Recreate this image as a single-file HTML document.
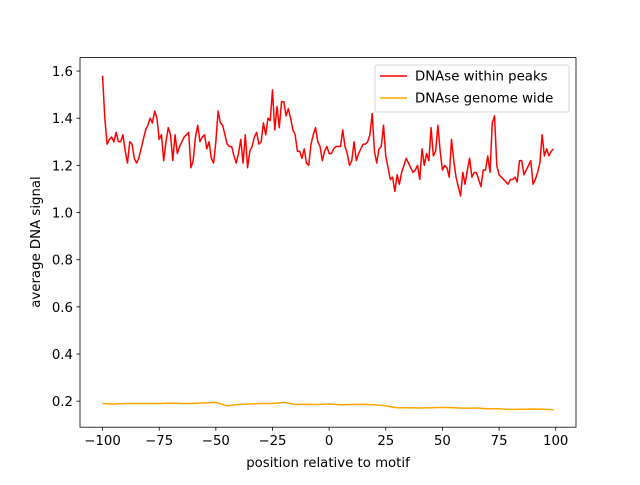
<!DOCTYPE html>
<html><head><meta charset="utf-8"><style>
body{margin:0;background:#fff}
svg text{font-family:"DejaVu Sans","Liberation Sans",sans-serif;font-size:13.3px;fill:#000}
</style></head><body>
<svg id="chart" width="640" height="480" xmlns="http://www.w3.org/2000/svg">
<rect width="640" height="480" fill="#fff"/>
<g id="plot"></g>
</svg>
<script>
const xTicks=[-100,-75,-50,-25,0,25,50,75,100];
const yTicks=[0.2,0.4,0.6,0.8,1.0,1.2,1.4,1.6];
const yTickLabels=["0.2","0.4","0.6","0.8","1.0","1.2","1.4","1.6"];
const peaksValues=[1.58,1.40,1.29,1.31,1.32,1.30,1.34,1.30,1.30,1.33,1.26,1.21,1.30,1.29,1.23,1.21,1.23,1.27,1.31,1.35,1.37,1.40,1.38,1.43,1.40,1.31,1.33,1.22,1.30,1.36,1.33,1.22,1.33,1.25,1.28,1.30,1.32,1.33,1.34,1.19,1.22,1.32,1.37,1.30,1.32,1.33,1.27,1.30,1.23,1.21,1.30,1.43,1.38,1.37,1.33,1.29,1.28,1.28,1.24,1.21,1.25,1.31,1.21,1.33,1.19,1.26,1.28,1.32,1.34,1.29,1.30,1.38,1.33,1.40,1.39,1.52,1.35,1.45,1.36,1.47,1.47,1.41,1.44,1.40,1.35,1.33,1.26,1.26,1.23,1.27,1.21,1.20,1.29,1.33,1.36,1.30,1.28,1.22,1.26,1.28,1.25,1.25,1.27,1.28,1.28,1.28,1.35,1.28,1.25,1.20,1.22,1.30,1.22,1.25,1.27,1.29,1.29,1.30,1.33,1.42,1.26,1.21,1.27,1.28,1.37,1.24,1.19,1.14,1.15,1.09,1.16,1.12,1.17,1.20,1.23,1.21,1.19,1.17,1.18,1.20,1.14,1.27,1.20,1.25,1.22,1.36,1.24,1.26,1.37,1.26,1.18,1.20,1.19,1.15,1.31,1.22,1.15,1.11,1.07,1.17,1.12,1.18,1.23,1.15,1.17,1.17,1.14,1.11,1.18,1.18,1.24,1.17,1.38,1.41,1.20,1.16,1.15,1.14,1.13,1.12,1.14,1.14,1.15,1.13,1.22,1.22,1.16,1.18,1.20,1.22,1.12,1.14,1.17,1.21,1.33,1.24,1.27,1.24,1.26,1.27];
const genomeX=[-100,-95,-90,-85,-80,-75,-70,-65,-60,-55,-50,-45,-40,-35,-30,-25,-20,-15,-10,-5,0,5,10,15,20,25,30,35,40,45,50,55,60,65,70,75,80,85,90,95,99];
const genomeValues=[0.19,0.188,0.19,0.19,0.19,0.19,0.192,0.19,0.19,0.193,0.195,0.18,0.186,0.188,0.19,0.19,0.195,0.186,0.187,0.186,0.188,0.185,0.186,0.187,0.185,0.18,0.172,0.172,0.171,0.172,0.174,0.172,0.17,0.171,0.168,0.168,0.165,0.166,0.167,0.166,0.163];
const peaksX=peaksValues.map((_,i)=>-100+i);

const L=80,R=576,T=57.6,B=427.2;
const xMin=-109.95,xMax=108.95,yMin=0.0897,yMax=1.657;
const sx=v=>L+(v-xMin)/(xMax-xMin)*(R-L);
const sy=v=>B-(v-yMin)/(yMax-yMin)*(B-T);
const NS="http://www.w3.org/2000/svg";
const g=document.getElementById('plot');
function mk(t,a){const e=document.createElementNS(NS,t);for(const k in a)e.setAttribute(k,a[k]);g.appendChild(e);return e;}

xTicks.forEach(v=>{
  const l=mk('line',{x1:sx(v),x2:sx(v),y1:B,y2:B+3.5,stroke:'#000','stroke-width':0.8});
  
  
  const t=mk('text',{x:sx(v),y:B+18,'text-anchor':'middle'});t.textContent=String(v).replace('-','\u2212');
  
  
});
yTicks.forEach((v,i)=>{
  const l=mk('line',{x1:L-3.5,x2:L,y1:sy(v),y2:sy(v),stroke:'#000','stroke-width':0.8});
  
  
  const t=mk('text',{x:L-7,y:sy(v)+5,'text-anchor':'end'});t.textContent=yTickLabels[i];
  
  
});
const p1=mk('polyline',{points:peaksX.map((x,i)=>sx(x)+','+sy(peaksValues[i])).join(' '),fill:'none',stroke:'#ff0000','stroke-width':1.5,'stroke-linejoin':'round'});


const p2=mk('polyline',{points:genomeX.map((x,i)=>sx(x)+','+sy(genomeValues[i])).join(' '),fill:'none',stroke:'#ffa500','stroke-width':1.5,'stroke-linejoin':'round'});


const fr=mk('rect',{x:L,y:T,width:R-L,height:B-T,fill:'none',stroke:'#000','stroke-width':0.8});


</script>
<script>
(function(){
const svg=document.getElementById('chart');
const NS="http://www.w3.org/2000/svg";
const lg=document.createElementNS(NS,'g');


lg.innerHTML='<rect x="375" y="65" width="194" height="47" rx="2" fill="#fff" fill-opacity="0.8" stroke="#ccc" stroke-width="0.8"/>'+
'<line x1="380" x2="407" y1="76" y2="76" stroke="#ff0000" stroke-width="1.5"/>'+
'<text x="415" y="80.5">DNAse within peaks</text>'+
'<line x1="380" x2="407" y1="98" y2="98" stroke="#ffa500" stroke-width="1.5"/>'+
'<text x="415" y="102.5">DNAse genome wide</text>';
svg.appendChild(lg);
const xt=document.createElementNS(NS,'text');
xt.setAttribute('x','328');xt.setAttribute('y','467');xt.setAttribute('text-anchor','middle');
xt.textContent='position relative to motif';


svg.appendChild(xt);
const yt=document.createElementNS(NS,'text');
yt.setAttribute('transform','translate(40,242) rotate(-90)');yt.setAttribute('text-anchor','middle');
yt.textContent='average DNA signal';


svg.appendChild(yt);
})();
</script>
</body></html>
